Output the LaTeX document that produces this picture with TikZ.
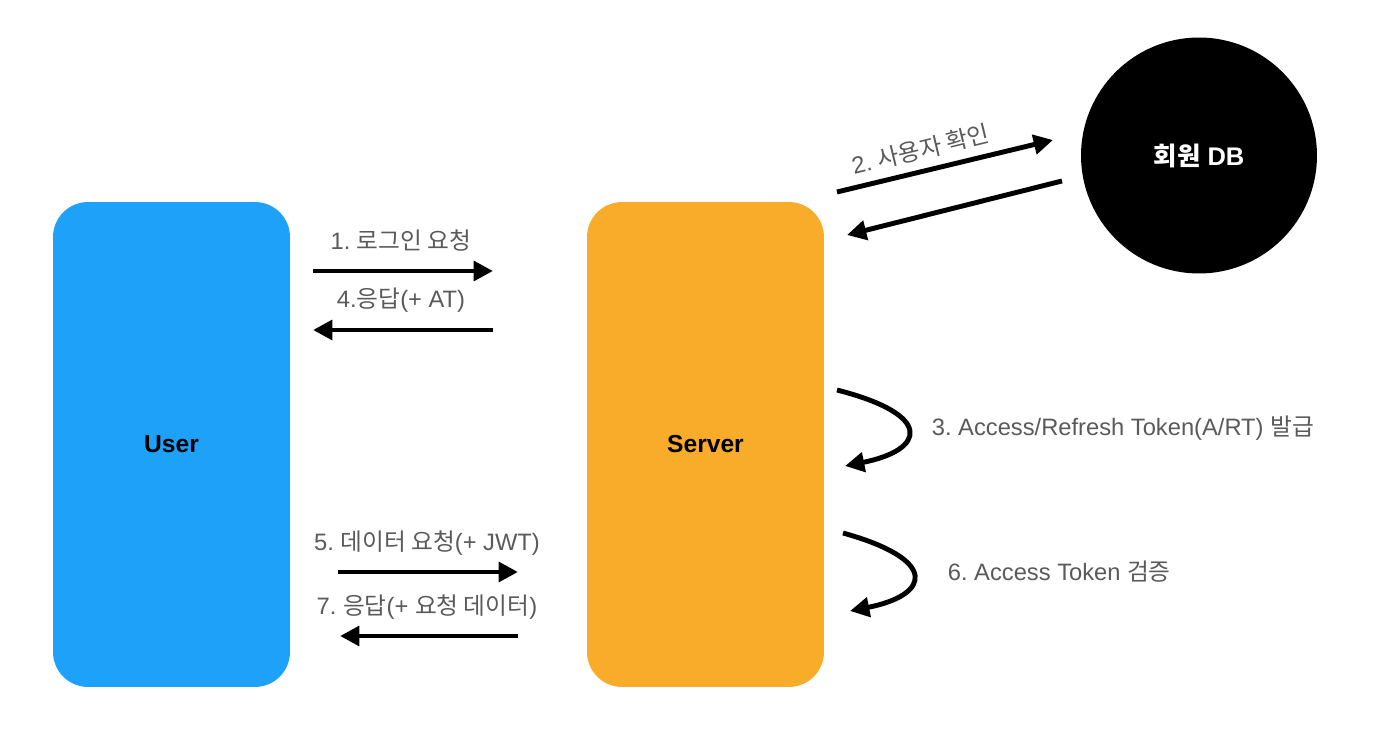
\documentclass[tikz,border=0pt]{standalone}
\usepackage{fontspec}
\setmainfont{Liberation Sans}
\newfontfamily\kr{Noto Sans CJK KR}
\usetikzlibrary{arrows.meta,positioning,calc}
\definecolor{userblue}{HTML}{1DA1F9}
\definecolor{serverorange}{HTML}{F9AC2A}
\definecolor{lblgray}{HTML}{5A5A5A}
\frenchspacing

\begin{document}
\begin{tikzpicture}[x=0.02cm, y=-0.02cm,
    actor/.style={rounded corners=0.7cm, minimum width=4.74cm, minimum height=9.7cm, font=\bfseries\fontsize{14}{16}\selectfont},
    dbnode/.style={circle, fill=black, minimum size=4.72cm, text=white, font=\bfseries\fontsize{14.5}{16}\selectfont},
    arr/.style={-{Triangle[length=11pt, width=11pt]}, line width=2.8pt},
    lbl/.style={text=lblgray, font=\fontsize{13.5}{15}\selectfont, inner sep=2pt}
]
\useasboundingbox (0,0) rectangle (1394,736);

\node[actor, fill=userblue] (user) at (171.5,444.5) {User};
\node[actor, fill=serverorange] (server) at (705.5,444.5) {Server};
\node[dbnode] (db) at (1199,155.5) {{\kr 회원} DB};

% login request / response
\coordinate (loginA) at (313,271);
\coordinate (loginB) at (493,271);
\coordinate (respA) at (493,330);
\coordinate (respB) at (313,330);
\draw[arr] (loginA) -- (loginB);
\draw[arr] (respA) -- (respB);
\node[lbl] (loginlbl) at (401,241) {1. {\kr 로그인 요청}};
\node[lbl] (resplbl) at (401,300) {4.{\kr 응답}(+ AT)};

% user check against DB
\coordinate (checkA) at (837,192);
\coordinate (checkB) at (1053,140);
\coordinate (backA) at (1062,181);
\coordinate (backB) at (847,235);
\draw[arr] (checkA) -- (checkB) node[lbl, pos=0.41, above=3pt, sloped] (checklbl) {2. {\kr 사용자 확인}};
\draw[arr] (backA) -- (backB);

% token issue / verify
\coordinate (issueA) at (837,390);
\coordinate (issueB) at (845,466);
\coordinate (verifyA) at (843,533);
\coordinate (verifyB) at (850,611);
\draw[arr] (issueA) .. controls (935,415) and (925,450) .. (issueB);
\draw[arr] (verifyA) .. controls (940,560) and (930,595) .. (verifyB);
\node[lbl, anchor=west] (issuelbl) at (928,428) {3. Access/Refresh Token(A/RT) {\kr 발급}};
\node[lbl, anchor=west] (verifylbl) at (944,572) {6. Access Token {\kr 검증}};

% data request / response
\coordinate (dataA) at (338,572);
\coordinate (dataB) at (518,572);
\coordinate (dresA) at (518,636);
\coordinate (dresB) at (340,636);
\draw[arr] (dataA) -- (dataB);
\draw[arr] (dresA) -- (dresB);
\node[lbl] (datalbl) at (427,543) {5. {\kr 데이터 요청}(+ JWT)};
\node[lbl] (dreslbl) at (427,607) {7. {\kr 응답}(+ {\kr 요청 데이터})};
\end{tikzpicture}
\end{document}
